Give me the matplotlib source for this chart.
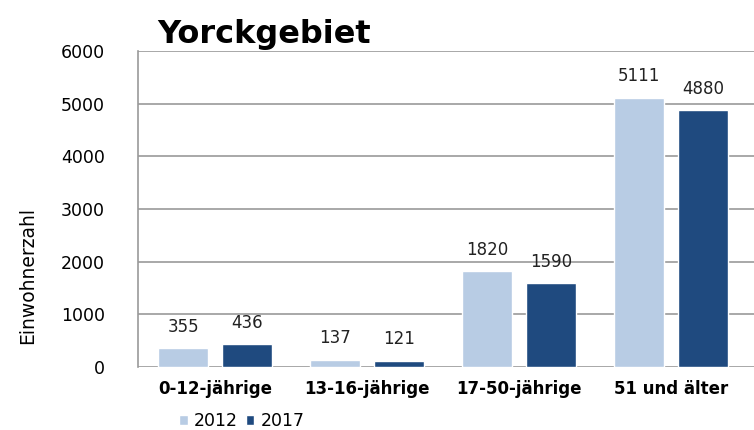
import matplotlib.pyplot as plt
import numpy as np

categories = ["0-12-jährige", "13-16-jährige", "17-50-jährige", "51 und älter"]
years = ["2012", "2017"]
values_2012 = [355, 137, 1820, 5111]
values_2017 = [436, 121, 1590, 4880]
yticks = [0, 1000, 2000, 3000, 4000, 5000, 6000]

light = "#b8cce4"
dark = "#1f4a7f"
grid_col = "#9a9a9a"

fig = plt.figure(figsize=(7.54, 4.30), dpi=100)
ax = fig.add_axes([0.183, 0.1465, 0.817, 0.7345])

x = np.arange(len(categories))
w = 0.33
off = 0.21
b1 = ax.bar(x - off, values_2012, w, color=light, edgecolor="white", linewidth=1, label=years[0], zorder=3)
b2 = ax.bar(x + off, values_2017, w, color=dark, edgecolor="white", linewidth=1, label=years[1], zorder=3)

for bars, vals in [(b1, values_2012), (b2, values_2017)]:
    for rect, v in zip(bars, vals):
        ax.annotate(str(v), (rect.get_x() + rect.get_width() / 2, v),
                    xytext=(0, 9), textcoords="offset points",
                    ha="center", va="bottom", fontsize=12, color="#222222", zorder=4)

ax.set_xlim(-0.507, 3.546)
ax.set_ylim(0, 6000)
ax.set_yticks(yticks)
ax.set_yticklabels([str(t) for t in yticks], fontsize=12.5)
ax.set_xticks(x)
ax.set_xticklabels(categories, fontsize=12, fontweight="bold")
ax.tick_params(length=0, pad=9)
ax.tick_params(axis="y", pad=24)
ax.yaxis.grid(True, color=grid_col, linewidth=1.2, zorder=0)
for s in ["right", "bottom", "top"]:
    ax.spines[s].set_visible(False)
ax.spines["left"].set_color(grid_col)
ax.spines["left"].set_linewidth(1.2)

ax.set_ylabel("Einwohnerzahl", fontsize=13.5)
ax.yaxis.set_label_coords(-0.164, 0.29)

fig.text(0.208, 0.9, "Yorckgebiet", fontsize=23, fontweight="bold", ha="left", va="baseline")

ax.legend(loc="upper left", bbox_to_anchor=(0.05, -0.11), ncol=2, frameon=False,
          fontsize=12.5, handlelength=0.5, handleheight=0.5, handletextpad=0.35, columnspacing=0.45,
          borderpad=0.1)

fig.savefig("out.png", dpi=100)
